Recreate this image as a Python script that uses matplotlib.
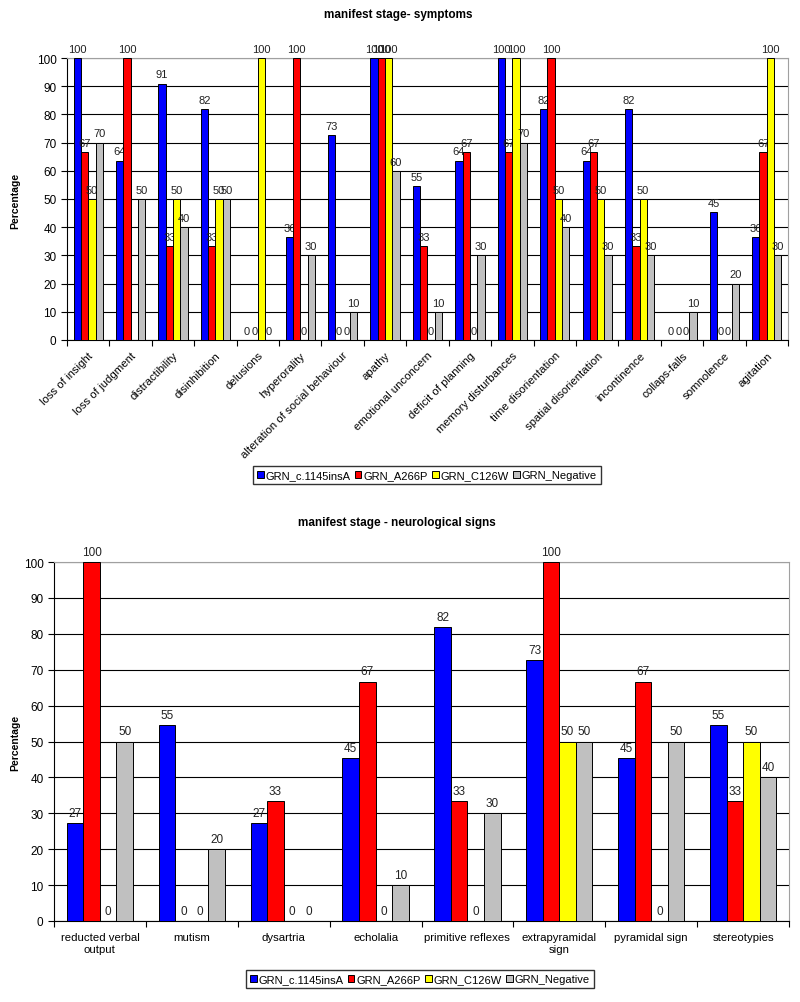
import numpy as np
import matplotlib
matplotlib.use('Agg')
import matplotlib.pyplot as plt

plt.rcParams['font.family'] = ['Liberation Sans', 'DejaVu Sans']

series = ['GRN_c.1145insA', 'GRN_A266P', 'GRN_C126W', 'GRN_Negative']
colors = ['#0000ff', '#ff0000', '#ffff00', '#c0c0c0']

# manifest stage - symptoms
sym_cats = ['loss of insight', 'loss of judgment', 'distractibility', 'disinhibition',
            'delusions', 'hyperorality', 'alteration of social behaviour', 'apathy',
            'emotional unconcern', 'deficit of planning', 'memory disturbances',
            'time disorientation', 'spatial disorientation', 'incontinence',
            'collaps-falls', 'somnolence', 'agitation']
sym_ins = [100, 63.64, 90.91, 81.82, 0, 36.36, 72.73, 100, 54.55, 63.64, 100, 81.82,
           63.64, 81.82, 0, 45.45, 36.36]
sym_a266 = [66.67, 100, 33.33, 33.33, 0, 100, 0, 100, 33.33, 66.67, 66.67, 100, 66.67,
            33.33, 0, 0, 66.67]
sym_c126 = [50, np.nan, 50, 50, 100, 0, 0, 100, 0, 0, 100, 50, 50, 50, 0, 0, 100]
sym_neg = [70, 50, 40, 50, 0, 30, 10, 60, 10, 30, 70, 40, 30, 30, 10, 20, 30]

# manifest stage - neurological signs
neu_cats = ['reducted verbal\noutput', 'mutism', 'dysartria', 'echolalia',
            'primitive reflexes', 'extrapyramidal\nsign', 'pyramidal sign', 'stereotypies']
neu_ins = [27.27, 54.55, 27.27, 45.45, 81.82, 72.73, 45.45, 54.55]
neu_a266 = [100, 0, 33.33, 66.67, 33.33, 100, 66.67, 33.33]
neu_c126 = [0, 0, 0, 0, 0, 50, 0, 50]
neu_neg = [50, 20, 0, 10, 30, 50, 50, 40]

W, H = 800, 1003
fig = plt.figure(figsize=(W / 100, H / 100), dpi=100)


def draw(ax, cats, data, bw, rot, fs):
    n = len(cats)
    x = np.arange(n)
    for k, vals in enumerate(data):
        vals = np.array(vals, dtype=float)
        pos = x + (k - 1.5) * bw
        ax.bar(pos, np.nan_to_num(vals), bw, color=colors[k], edgecolor='black',
               linewidth=0.7, zorder=3, label=series[k])
        for p, v in zip(pos, vals):
            if np.isnan(v):
                continue
            ax.annotate('%d' % round(v), (p, v), xytext=(0, 3), textcoords='offset points',
                        ha='center', va='bottom', fontsize=fs, color='#222222',
                        annotation_clip=False)
    ax.set_xlim(-0.5, n - 0.5)
    ax.set_ylim(0, 100)
    ax.set_yticks(np.arange(0, 101, 10))
    ax.yaxis.grid(True, color='black', linewidth=0.8, zorder=0)
    ax.set_axisbelow(True)
    ax.set_xticks(np.arange(n + 1) - 0.5)
    ax.set_xticklabels([])
    ax.set_xticks(x, minor=True)
    ax.tick_params(axis='x', which='minor', length=0)
    ax.tick_params(axis='x', which='major', length=4, direction='out')
    ax.tick_params(axis='y', length=4, direction='out', labelsize=8.5)
    for s in ['top', 'right']:
        ax.spines[s].set_color('#a0a0a0')
    for s in ['left', 'bottom']:
        ax.spines[s].set_color('black')
    if rot:
        ax.set_xticklabels(cats, minor=True, rotation=45, ha='right',
                           rotation_mode='anchor', fontsize=8.2)
        ax.tick_params(axis='x', which='minor', pad=7)
    else:
        ax.set_xticklabels(cats, minor=True, fontsize=8.2)
        ax.tick_params(axis='x', which='minor', pad=8)


ax1 = fig.add_axes([67 / W, 1 - 341 / H, 721 / W, 282 / H])
draw(ax1, sym_cats, [sym_ins, sym_a266, sym_c126, sym_neg], 0.172, True, 8)
fig.text(398 / W, 1 - 15 / H, 'manifest stage- symptoms', ha='center', va='center',
         fontsize=8.5, fontweight='bold')
fig.text(15 / W, 1 - 201 / H, 'Percentage', rotation=90, ha='center', va='center',
         fontsize=7.5, fontweight='bold')
leg_kw = dict(ncol=4, fontsize=8, frameon=True, fancybox=False, handlelength=0.6,
              handleheight=0.6, handletextpad=0.2, columnspacing=0.35, borderpad=0.35,
              borderaxespad=0, loc='center')
l1 = fig.legend(*ax1.get_legend_handles_labels(), bbox_to_anchor=(427 / W, 1 - 476 / H), **leg_kw)
l1.get_frame().set_edgecolor('black')

ax2 = fig.add_axes([54 / W, 1 - 922 / H, 735 / W, 359 / H])
draw(ax2, neu_cats, [neu_ins, neu_a266, neu_c126, neu_neg], 0.18, False, 8.5)
fig.text(397 / W, 1 - 523 / H, 'manifest stage - neurological signs', ha='center',
         va='center', fontsize=8.5, fontweight='bold')
fig.text(15 / W, 1 - 743 / H, 'Percentage', rotation=90, ha='center', va='center',
         fontsize=7.5, fontweight='bold')
l2 = fig.legend(*ax2.get_legend_handles_labels(), bbox_to_anchor=(420 / W, 1 - 980 / H), **leg_kw)
l2.get_frame().set_edgecolor('black')

fig.savefig('out.png', dpi=100)
